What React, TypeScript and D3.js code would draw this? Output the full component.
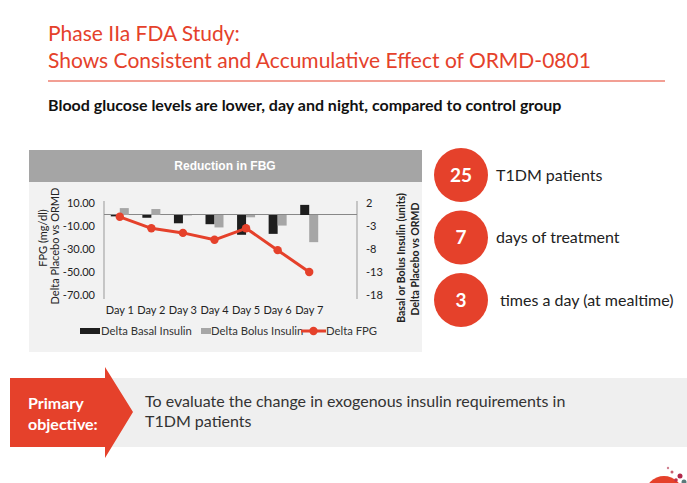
import React from 'react';
import * as d3 from 'd3';

const days = ['Day 1', 'Day 2', 'Day 3', 'Day 4', 'Day 5', 'Day 6', 'Day 7'];
const deltaFPG = [-2, -12, -16, -22, -12, -31, -50];
const deltaBasal = [-0.3, -0.6, -1.8, -2.0, -4.3, -4.1, 2.2];
const deltaBolus = [1.5, 1.3, -0.1, -2.7, -0.5, -2.3, -5.9];
const leftTicks = [10, -10, -30, -50, -70];
const rightTicks = [2, -3, -8, -13, -18];
const facts = [
  { n: '25', label: 'T1DM patients' },
  { n: '7', label: 'days of treatment' },
  { n: '3', label: 'times a day (at mealtime)' },
];

const RED = '#e5412b';
const FONT = 'Lato, "Open Sans", sans-serif';

export default function App() {
  const yL = d3.scaleLinear().domain([-70, 10]).range([295, 203]);
  const yR = d3.scaleLinear().domain([-18, 2]).range([295, 203]);
  const x = d3.scaleBand<string>().domain(days).range([104, 325]);
  const bw = 9;
  const base = yL(0) + 0.5;
  const cx = (d: string) => (x(d) as number) + x.bandwidth() / 2;
  const line = d3
    .line<number>()
    .x((_, i) => cx(days[i]))
    .y((v) => yL(v));
  const barRect = (v: number) => {
    const h = Math.abs(yR(v) - yR(0));
    return { y: v >= 0 ? base - h : base, h };
  };
  const factY = d3.scalePoint<number>().domain([0, 1, 2]).range([175, 300]);

  return (
    <svg
      width={687}
      height={483}
      style={{ position: 'absolute', left: 0, top: 0, background: '#fff' }}
      fontFamily={FONT}
    >
      {/* Title */}
      <text x={48} y={41} fontSize={21} fill={RED}>Phase IIa FDA Study:</text>
      <text x={48} y={68} fontSize={21} fill={RED}>Shows Consistent and Accumulative Effect of ORMD-0801</text>
      <line x1={48} x2={665} y1={81} y2={81} stroke={RED} strokeWidth={1.2} />
      <text x={48} y={111} fontSize={16} fontWeight={700} fill="#111">
        Blood glucose levels are lower, day and night, compared to control group
      </text>

      {/* Chart panel */}
      <rect x={29} y={150} width={393} height={202} fill="#f2f2f2" />
      <rect x={29} y={150} width={393} height={32} fill="#a5a5a5" />
      <text x={225} y={170} textAnchor="middle" fontSize={12} fontWeight={700} fill="#fff" fontFamily='"Liberation Sans", Arial, sans-serif'>
        Reduction in FBG
      </text>

      {/* axes */}
      <line x1={104} x2={104} y1={201} y2={299} stroke="#999" />
      <line x1={357} x2={357} y1={201} y2={299} stroke="#999" />
      <line x1={104} x2={357} y1={yL(0)} y2={yL(0)} stroke="#888" />
      {leftTicks.map((t) => (
        <text key={t} x={95} y={yL(t)} dy="0.35em" textAnchor="end" fontSize={11} fill="#222">
          {t.toFixed(2)}
        </text>
      ))}
      {rightTicks.map((t) => (
        <text key={t} x={366} y={yR(t)} dy="0.35em" textAnchor="start" fontSize={11} fill="#222">
          {t}
        </text>
      ))}
      <text transform="translate(47,238) rotate(-90)" textAnchor="middle" fontSize={11} fill="#222">FPG (mg/dl)</text>
      <text transform="translate(59,246) rotate(-90)" textAnchor="middle" fontSize={11} fill="#222">Delta Placebo vs ORMD</text>
      <text transform="translate(405,258) rotate(-90)" textAnchor="middle" fontSize={10.5} fontWeight={700} fill="#222">Basal or Bolus Insulin (units)</text>
      <text transform="translate(419,259) rotate(-90)" textAnchor="middle" fontSize={10.5} fontWeight={700} fill="#222">Delta Placebo vs ORMD</text>

      {/* bars */}
      {days.map((d, i) => {
        const b = barRect(deltaBasal[i]);
        const g = barRect(deltaBolus[i]);
        return (
          <g key={d}>
            <rect x={cx(d) - bw} y={b.y} width={bw} height={b.h} fill="#1e1e1e" />
            <rect x={cx(d)} y={g.y} width={bw} height={g.h} fill="#a6a6a6" />
          </g>
        );
      })}
      <path d={line(deltaFPG) || ''} fill="none" stroke={RED} strokeWidth={3} strokeLinejoin="round" />
      {deltaFPG.map((v, i) => (
        <circle key={i} cx={cx(days[i])} cy={yL(v)} r={4.2} fill={RED} />
      ))}
      {days.map((d) => (
        <text key={d} x={cx(d)} y={314} textAnchor="middle" fontSize={11} fill="#222">{d}</text>
      ))}

      {/* legend */}
      <rect x={80} y={328} width={20} height={6} fill="#1e1e1e" />
      <text x={101} y={335} fontSize={11.3} fill="#333">Delta Basal Insulin</text>
      <rect x={201} y={328} width={10} height={6} fill="#a6a6a6" />
      <text x={211} y={335} fontSize={11.3} fill="#333">Delta Bolus Insulin</text>
      <line x1={301} x2={326} y1={331} y2={331} stroke={RED} strokeWidth={3} />
      <circle cx={313.5} cy={331} r={4.2} fill={RED} />
      <text x={326} y={335} fontSize={11.3} fill="#333">Delta FPG</text>

      {/* facts */}
      {facts.map((f, i) => (
        <g key={f.n}>
          <circle cx={461} cy={factY(i)} r={27} fill={RED} />
          <text x={461} y={factY(i)} dy="0.36em" textAnchor="middle" fontSize={19} fontWeight={700} fill="#fff">{f.n}</text>
          <text x={i === 2 ? 500 : 496} y={factY(i)} dy="0.36em" fontSize={16} fill="#222">{f.label}</text>
        </g>
      ))}

      {/* bottom objective band */}
      <rect x={105} y={378} width={582} height={69} fill="#efefef" />
      <path d="M10,378 L105,378 L105,367 L133,412 L105,458 L105,447 L10,447 Z" fill={RED} />
      <text x={28} y={409} fontSize={16} fontWeight={700} fill="#fff">Primary</text>
      <text x={28} y={430} fontSize={16} fontWeight={700} fill="#fff">objective:</text>
      <text x={145} y={407} fontSize={16} fill="#333">To evaluate the change in exogenous insulin requirements in</text>
      <text x={145} y={427} fontSize={16} fill="#333">T1DM patients</text>

      {/* logo */}
      <circle cx={664} cy={495} r={19} fill={RED} />
      <circle cx={680} cy={476} r={2.5} fill="#b0284a" />
      <circle cx={672} cy={472} r={1.5} fill="#c86070" />
      <circle cx={684} cy={482} r={2.5} fill="#5a7a7a" />
      <circle cx={676} cy={480} r={1.8} fill="#c0304a" />
      <circle cx={668} cy={468} r={1.2} fill="#d08090" />
    </svg>
  );
}
